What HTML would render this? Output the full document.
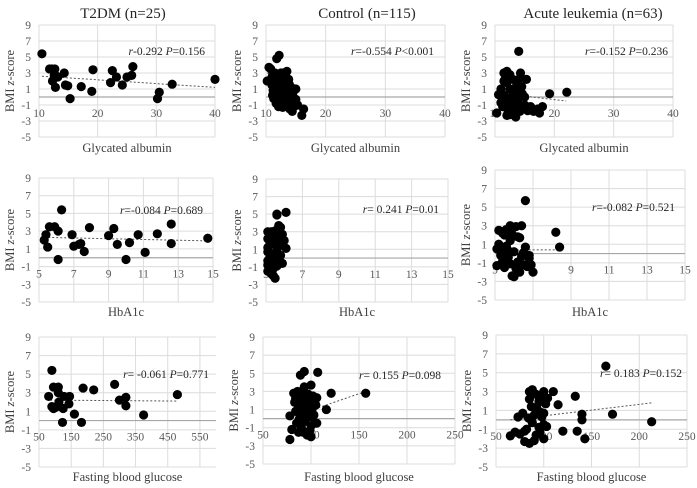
<!DOCTYPE html>
<html><head><meta charset="utf-8"><style>
html,body{margin:0;padding:0;background:#fff;}
svg{display:block;font-family:"Liberation Serif",serif;}
</style></head><body>
<svg id="chart" width="697" height="488" viewBox="0 0 697 488" xmlns="http://www.w3.org/2000/svg"></svg>
<script>
const yTicks=[9,7,5,3,1,-1,-3,-5];
const gaTicks=[10,20,30,40];
const hbTicks=[5,7,9,11,13,15];
const fbgTicksT2=[50,150,250,350,450,550];
const fbgTicks=[50,100,150,200,250];
const titles=["T2DM (n=25)","Control (n=115)","Acute leukemia (n=63)"];
const xLabels=["Glycated albumin","HbA1c","Fasting blood glucose"];
const stats=[["-0.292","=0.156"],["=-0.554","<0.001"],["=-0.152","=0.236"],["=-0.084","=0.689"],["= 0.241","=0.01"],["=-0.082","=0.521"],["= -0.061","=0.771"],["= 0.155","=0.098"],["= 0.183","=0.152"]];
const p1=[[10.5,5.4],[11.8,3.5],[12.2,3.5],[12.7,3.5],[12.3,2.0],[12.6,2.7],[13.0,2.6],[13.2,2.5],[12.8,1.2],[14.3,3.0],[14.5,1.5],[14.9,1.4],[15.3,-0.2],[17.2,1.3],[19.0,0.7],[19.2,3.4],[22.2,1.8],[22.5,3.3],[23.2,2.5],[24.2,1.5],[25.0,2.5],[25.8,2.7],[26.0,3.8],[30.2,-0.2],[30.5,0.6],[32.7,1.6],[40,2.2]];
const p2=[[10.2,2],[10.5,3.7],[10.8,3.5],[11,2.5],[11,1.5],[11.2,0.8],[11.3,-0.2],[11.5,3],[11.5,1.2],[11.7,-0.8],[11.8,4.8],[12,2.2],[12,0.5],[12.2,5.2],[12.3,1.8],[12.3,-1],[12.5,3],[12.5,0],[12.7,2.5],[12.8,1],[12.8,-1.3],[13,2],[13,0.3],[13.2,-0.5],[13.3,1.5],[13.5,3.2],[13.5,-1],[13.7,0.8],[13.8,2.2],[14,0],[14,-1.5],[14.2,1.2],[14.3,-0.8],[14.5,0.5],[14.7,-1.2],[15,1],[15,-0.3],[15.3,-1],[16,-2.3],[16.3,-1.5],[11.5,2.8],[12.2,2.8],[12.8,3],[13.2,2.8],[11.8,0],[12.6,-0.3],[13.6,0.2],[14.4,-1.8],[11.4,0.3],[12.1,-1.2],[12.9,-0.8],[13.9,1.6],[11.1,0.2]];
const p3=[[14,5.7],[14.3,3],[11.5,3],[12,3.2],[12.5,2.8],[13,2.2],[14,2.2],[15.3,2.2],[11.5,2],[12,1.8],[11,1],[12.5,1],[13.5,1.2],[14.5,1.3],[19.2,0.4],[22.1,0.6],[10.6,0.3],[11.5,0.2],[13,0.5],[14,0.5],[15,0],[13.5,-0.2],[12,-0.5],[11,-0.7],[12.5,-1],[14,-1],[15,-1],[16,-1.2],[17.2,-1.5],[18,-1.2],[16.5,-1.8],[15.5,-1.7],[13,-1.5],[12,-1.4],[11.3,-1.2],[10.3,-2],[12,-2.3],[12.5,-2.2],[13.5,-2.5],[14.2,-1.8],[17.5,-2],[11.8,2.5],[12.8,0],[13.8,-0.6],[14.6,0.4],[12.3,-0.2]];
const p4=[[5.3,2.0],[5.4,2.6],[5.5,1.2],[5.6,3.5],[5.9,3.5],[6.1,3.0],[6.1,-0.2],[6.3,5.4],[6.9,2.6],[7.0,1.3],[7.3,1.5],[7.4,1.6],[7.6,0.7],[7.9,3.4],[9.0,2.5],[9.3,3.3],[9.5,1.5],[10.0,-0.2],[10.2,1.7],[10.7,2.6],[11.1,0.6],[11.8,2.7],[12.6,3.8],[12.6,1.6],[14.7,2.2]];
const p5=[[5.1,3],[5.1,2.2],[5.1,1.2],[5.1,0.7],[5.1,-0.3],[5.1,-0.8],[5.1,-1.5],[5.2,2.6],[5.2,0],[5.2,-1.1],[5.3,3],[5.3,1.6],[5.3,-0.5],[5.3,-1.8],[5.4,2.3],[5.4,0.5],[5.4,-1.2],[5.5,3.1],[5.5,1.8],[5.5,-0.2],[5.5,-2.3],[5.6,5],[5.6,4.9],[5.6,2.5],[5.6,0.9],[5.6,-0.9],[5.7,3.7],[5.7,1.4],[5.7,-0.4],[5.8,3.5],[5.8,2.6],[5.8,0.3],[5.9,2.7],[5.9,1.9],[5.9,-0.6],[6.0,2],[6.1,5.2],[6.1,1.1],[5.4,-2],[5.2,1.9],[5.5,0.4],[5.7,2.2]];
const p6=[[6.6,5.7],[6.4,3],[5.8,3],[5.6,2.6],[5.2,2.5],[5.4,2.2],[6.2,1.8],[8.2,2.3],[8.4,0.7],[6.6,0.7],[5.1,0.5],[5.5,0.3],[5.1,-1.3],[5.2,1],[5.3,-0.2],[5.4,-0.8],[5.5,-1.5],[5.6,0.8],[5.7,-0.4],[5.8,-1.1],[5.8,1.4],[5.9,-2.4],[6.0,-2.5],[6.0,0.2],[6.1,-1.6],[6.2,-0.9],[6.3,-2],[6.4,-0.3],[6.5,-1.2],[6.7,-1.4],[6.8,-0.2],[6.8,-0.5],[7.0,-2],[6.9,-1.2],[5.9,2.1],[6.1,2.9],[6.3,1.7],[5.5,2.0],[5.7,0.3],[6.5,0.1]];
const p7=[[90,5.4],[80,2.6],[95,3.6],[110,3.6],[110,3.0],[112,2.0],[90,1.5],[95,1.3],[100,1.4],[105,1.5],[125,1.3],[128,2.6],[145,2.6],[143,1.8],[123,-0.2],[160,0.7],[182,-0.2],[187,3.5],[220,3.3],[285,3.9],[300,2.2],[320,2.5],[320,1.6],[375,0.6],[480,2.8]];
const p8=[[78,0.3],[78,-2.3],[80,-1.2],[82,2.8],[83,1.8],[84,0.8],[85,-0.5],[85,2.5],[86,3],[87,-1.5],[88,1.5],[88,0],[89,4.8],[90,2.2],[90,-1],[91,3],[92,0.5],[93,5.2],[93,3.5],[94,-0.3],[94,2],[95,1.2],[96,-1.8],[97,2.7],[98,0.2],[99,1.8],[100,3.7],[100,-2],[100,-0.8],[101,1],[102,2.5],[103,0.4],[104,-0.5],[105,1.5],[106,2.3],[107,5.1],[106,-0.5],[104,1.9],[86,1],[92,-1.5],[116,1],[121,2.8],[157,2.8],[84,2.2],[96,0.7],[89,-0.6],[99,-1.3]];
const p9=[[165,5.7],[133,2.5],[100,3],[110,3],[115,1.6],[140,0.6],[140,0],[172,0.6],[213,-0.2],[120,-1.2],[135,-1.2],[143,-2],[65,-1.7],[70,-1.3],[73,0.3],[78,0.7],[80,-1.2],[85,3],[88,3.2],[85,2.2],[92,2.7],[95,2],[98,2.2],[100,-0.5],[100,-2],[85,-2.5],[80,-2.3],[75,-1.5],[82,-1],[88,-0.3],[90,0.5],[92,-1.6],[95,-0.8],[97,0.8],[98,0.3],[102,1.7],[104,2.3],[93,1.2],[87,1.4],[84,0.2],[96,-1.3],[90,-2.2],[100,0.7],[103,-0.7],[95,1.9]];
const trends=[[[10.5,2.6],[40,1.2]],[[10.3,3.0],[15.5,-1.0]],[[10.5,0.5],[22,-0.5]],[[5.3,2.3],[14.7,1.9]],[[5.1,0.2],[6.1,1.6]],[[5.3,0.4],[8.3,0.4]],[[85,2.2],[480,2.1]],[[80,0.2],[157,3.0]],[[65,0],[213,1.8]]];
const pointSets=[p1,p2,p3,p4,p5,p6,p7,p8,p9];

const layout=[
 {L:39,R:215,T:25,B:137,x0:10,x1:40,ticks:gaTicks,stat:[205,55],dash:"2,2",solid:false},
 {L:266,R:445,T:25,B:137,x0:10,x1:40,ticks:gaTicks,stat:[434,55],solid:true},
 {L:495,R:673,T:25,B:137,x0:10,x1:40,ticks:gaTicks,stat:[668,55],dash:"2,2"},
 {L:39,R:213,T:178,B:302,x0:5,x1:15,ticks:hbTicks,stat:[203,214],dash:"2,2"},
 {L:266,R:448,T:179,B:302,x0:5,x1:15,ticks:hbTicks,stat:[439,213],dash:"2,2"},
 {L:495,R:685,T:170,B:300,x0:5,x1:15,ticks:hbTicks,stat:[675,211],dash:"2,2"},
 {L:39,R:216,T:337,B:467,x0:50,x1:600,ticks:fbgTicksT2,stat:[209,378],dash:"2,2"},
 {L:263,R:455,T:337,B:464,x0:50,x1:250,ticks:fbgTicks,stat:[441,379],dash:"2,2"},
 {L:496,R:687,T:335,B:467,x0:50,x1:250,ticks:fbgTicks,stat:[682,377],dash:"2,2"}
];
const NS="http://www.w3.org/2000/svg";
const svg=document.getElementById('chart');
function mk(tag,attrs,parent,text){const e=document.createElementNS(NS,tag);for(const k in attrs)e.setAttribute(k,attrs[k]);if(text!==undefined)e.textContent=text;parent.appendChild(e);return e;}

layout.forEach((c,i)=>{
  const g=mk('g',{},svg);
  
  
  const sx=v=>c.L+(v-c.x0)/(c.x1-c.x0)*(c.R-c.L);
  const sy=v=>c.T+(9-v)/14*(c.B-c.T);
  yTicks.forEach(t=>{
    const l=mk('line',{x1:c.L,x2:c.R,y1:sy(t),y2:sy(t),stroke:'#dcdcdc','stroke-width':1},g);
    
    
    const tx=mk('text',{x:c.L-8,y:sy(t)+4,'text-anchor':'end','font-size':11.5,fill:'#595959'},g,String(t));
    
    
  });
  c.ticks.forEach(t=>{
    const l=mk('line',{x1:sx(t),x2:sx(t),y1:c.T,y2:c.B,stroke:'#dcdcdc','stroke-width':1},g);
    
    
    const tx=mk('text',{x:sx(t),y:sy(0)+20,'text-anchor':'middle','font-size':11.5,fill:'#595959'},g,String(t));
    
    
  });
  const ax=mk('line',{x1:c.L,x2:c.R,y1:sy(0),y2:sy(0),stroke:'#a6a6a6','stroke-width':1.2},g);
  
  
  const tr=trends[i];
  const tl=mk('line',{x1:sx(tr[0][0]),y1:sy(tr[0][1]),x2:sx(tr[1][0]),y2:sy(tr[1][1]),stroke:c.solid?'#404040':'#555','stroke-width':c.solid?1.2:1},g);
  if(!c.solid)tl.setAttribute('stroke-dasharray',c.dash);
  
  
  pointSets[i].forEach(p=>{
    const d=mk('circle',{cx:sx(p[0]),cy:sy(p[1]),r:4.6,fill:'#000'},g);
    
    
  });
  const st=mk('text',{x:c.stat[0],y:c.stat[1],'text-anchor':'end','font-size':11.5,fill:'#262626'},g);
  
  
  mk('tspan',{'font-style':'italic'},st,'r');
  mk('tspan',{},st,stats[i][0]+' ');
  mk('tspan',{'font-style':'italic'},st,'P');
  mk('tspan',{},st,stats[i][1]);
  const yl=mk('text',{x:0,y:0,transform:`translate(16,${(c.T+c.B)/2}) rotate(-90)`,'text-anchor':'middle','font-size':12.5,fill:'#404040'},g);
  
  
  yl.setAttribute('transform',`translate(${c.L-25},${(c.T+c.B)/2}) rotate(-90)`);
  mk('tspan',{},yl,'BMI ');
  mk('tspan',{'font-style':'italic'},yl,'z');
  mk('tspan',{},yl,'-score');
  const row=Math.floor(i/3);
  const xl=mk('text',{x:(c.L+c.R)/2,y:[152,316,481][row],'text-anchor':'middle','font-size':12.5,fill:'#404040'},g,xLabels[row]);
  
  
  if(row===0){
    const tt=mk('text',{x:[123,367,593][i],y:18,'text-anchor':'middle','font-size':15,fill:'#262626'},g,titles[i]);
    
    
  }
});
</script>
</body></html>
